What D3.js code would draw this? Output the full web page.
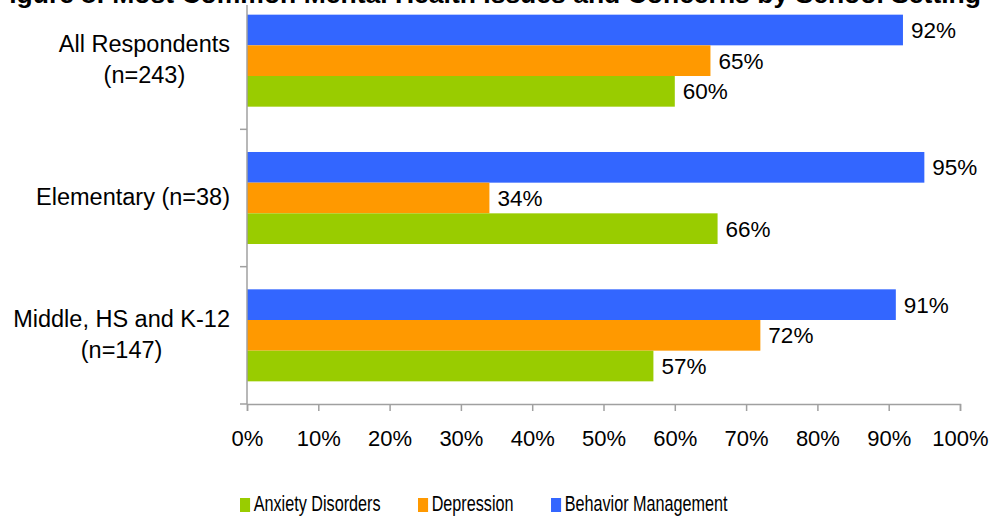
<!DOCTYPE html>
<html>
<head>
<meta charset="utf-8">
<script src="https://cdnjs.cloudflare.com/ajax/libs/d3/7.8.5/d3.min.js"></script>
<style>
  body { margin: 0; background: #fff; }
  text { font-family: Arial, "Liberation Sans", sans-serif; fill: #000; }
</style>
</head>
<body>
<div id="chart-area"></div>
<script>
// Data
const categories = ["All Respondents\n(n=243)", "Elementary (n=38)", "Middle, HS and K-12\n(n=147)"];
const seriesNames = ["Behavior Management", "Depression", "Anxiety Disorders"]; // top to bottom in each group
const legendOrder = ["Anxiety Disorders", "Depression", "Behavior Management"];
const behaviorValues = [92, 95, 91];
const depressionValues = [65, 34, 72];
const anxietyValues = [60, 66, 57];
const xTicks = [0, 10, 20, 30, 40, 50, 60, 70, 80, 90, 100];
const titleText = "Figure 8: Most Common Mental Health Issues and Concerns by School Setting";

const colors = {
  "Behavior Management": "#3366FF",
  "Depression": "#FF9900",
  "Anxiety Disorders": "#99CC00"
};
const valuesBySeries = {
  "Behavior Management": behaviorValues,
  "Depression": depressionValues,
  "Anxiety Disorders": anxietyValues
};

// Dimensions
const W = 992, H = 517;
const plot = { left: 247, right: 960, top: -8, bottom: 404 };
const axisColor = "#A0A0A0";

const svg = d3.select("#chart-area").append("svg")
  .attr("width", W)
  .attr("height", H);

// scales
const x = d3.scaleLinear().domain([0, 100]).range([plot.left, plot.right]);
const y0 = d3.scaleBand().domain(categories).range([plot.top, plot.bottom])
  .paddingInner(0.33).paddingOuter(0.165);
const y1 = d3.scaleBand().domain(seriesNames).range([0, y0.bandwidth()]);

// bars
const rows = [];
categories.forEach((c, i) => {
  seriesNames.forEach(s => rows.push({ cat: c, series: s, value: valuesBySeries[s][i] }));
});

const groups = svg.append("g");
groups.selectAll("rect")
  .data(rows)
  .enter().append("rect")
    .attr("x", x(0))
    .attr("y", d => y0(d.cat) + y1(d.series))
    .attr("width", d => x(d.value) - x(0))
    .attr("height", y1.bandwidth())
    .style("fill", d => colors[d.series]);

// value labels
groups.selectAll("text.val")
  .data(rows)
  .enter().append("text")
    .attr("class", "val")
    .attr("x", d => x(d.value) + 8)
    .attr("y", d => y0(d.cat) + y1(d.series) + y1.bandwidth() / 2 + 8)
    .attr("font-size", "22.5px")
    .text(d => d.value + "%");

// y axis line + boundary ticks
const bounds = d3.range(categories.length + 1).map(i => plot.top + i * y0.step());
svg.append("line")
  .attr("x1", plot.left).attr("x2", plot.left)
  .attr("y1", plot.top).attr("y2", plot.bottom)
  .style("stroke", axisColor).style("stroke-width", 1.5);
svg.selectAll("line.ytick")
  .data(bounds)
  .enter().append("line")
    .attr("class", "ytick")
    .attr("x1", plot.left - 7).attr("x2", plot.left)
    .attr("y1", d => d).attr("y2", d => d)
    .style("stroke", axisColor).style("stroke-width", 1.5);

// x axis
const xAxis = d3.axisBottom(x)
  .tickValues(xTicks)
  .tickSize(7)
  .tickFormat(d => d + "%");
const xAxisGroup = svg.append("g")
  .attr("transform", "translate(0," + plot.bottom + ")")
  .call(xAxis);
xAxisGroup.select(".domain").attr("stroke", axisColor).attr("stroke-width", 1.5);
xAxisGroup.selectAll(".tick line").attr("stroke", axisColor).attr("stroke-width", 1.5);
xAxisGroup.selectAll(".tick text")
  .attr("font-size", "22px")
  .attr("font-family", "Arial, 'Liberation Sans', sans-serif")
  .attr("fill", "#000")
  .attr("dy", null)
  .attr("y", 42);

// category labels
categories.forEach(c => {
  const lines = c.split("\n");
  const cy = y0(c) + y0.bandwidth() / 2;
  const t = svg.append("text")
    .attr("text-anchor", "middle")
    .attr("font-size", "23.5px");
  lines.forEach((ln, j) => {
    t.append("tspan")
      .attr("x", 0)
      .attr("y", cy + 7 + (j - (lines.length - 1) / 2) * 31)
      .text(ln);
  });
  // right-align the block, centred lines like the original
  const w = t.node().getBBox().width;
  t.selectAll("tspan").attr("x", 230 - w / 2);
});

// white strip + cut-off title
svg.append("rect").attr("x", 0).attr("y", 0).attr("width", W).attr("height", 5).style("fill", "#fff");
svg.append("text")
  .attr("x", -7)
  .attr("y", 3)
  .attr("font-size", "26.5px")
  .attr("font-weight", "bold")
  .text(titleText);

// legend (horizontally condensed like the source)
const legend = svg.append("g")
  .attr("transform", "translate(240,0) scale(0.72,1)");
let lx = 0;
legendOrder.forEach(s => {
  legend.append("rect")
    .attr("x", lx).attr("y", 498)
    .attr("width", 14).attr("height", 14)
    .style("fill", colors[s]);
  const t = legend.append("text")
    .attr("x", lx + 19)
    .attr("y", 511.5)
    .attr("font-size", "22.5px")
    .text(s);
  lx += 19 + t.node().getComputedTextLength() + 52;
});
</script>
</body>
</html>
